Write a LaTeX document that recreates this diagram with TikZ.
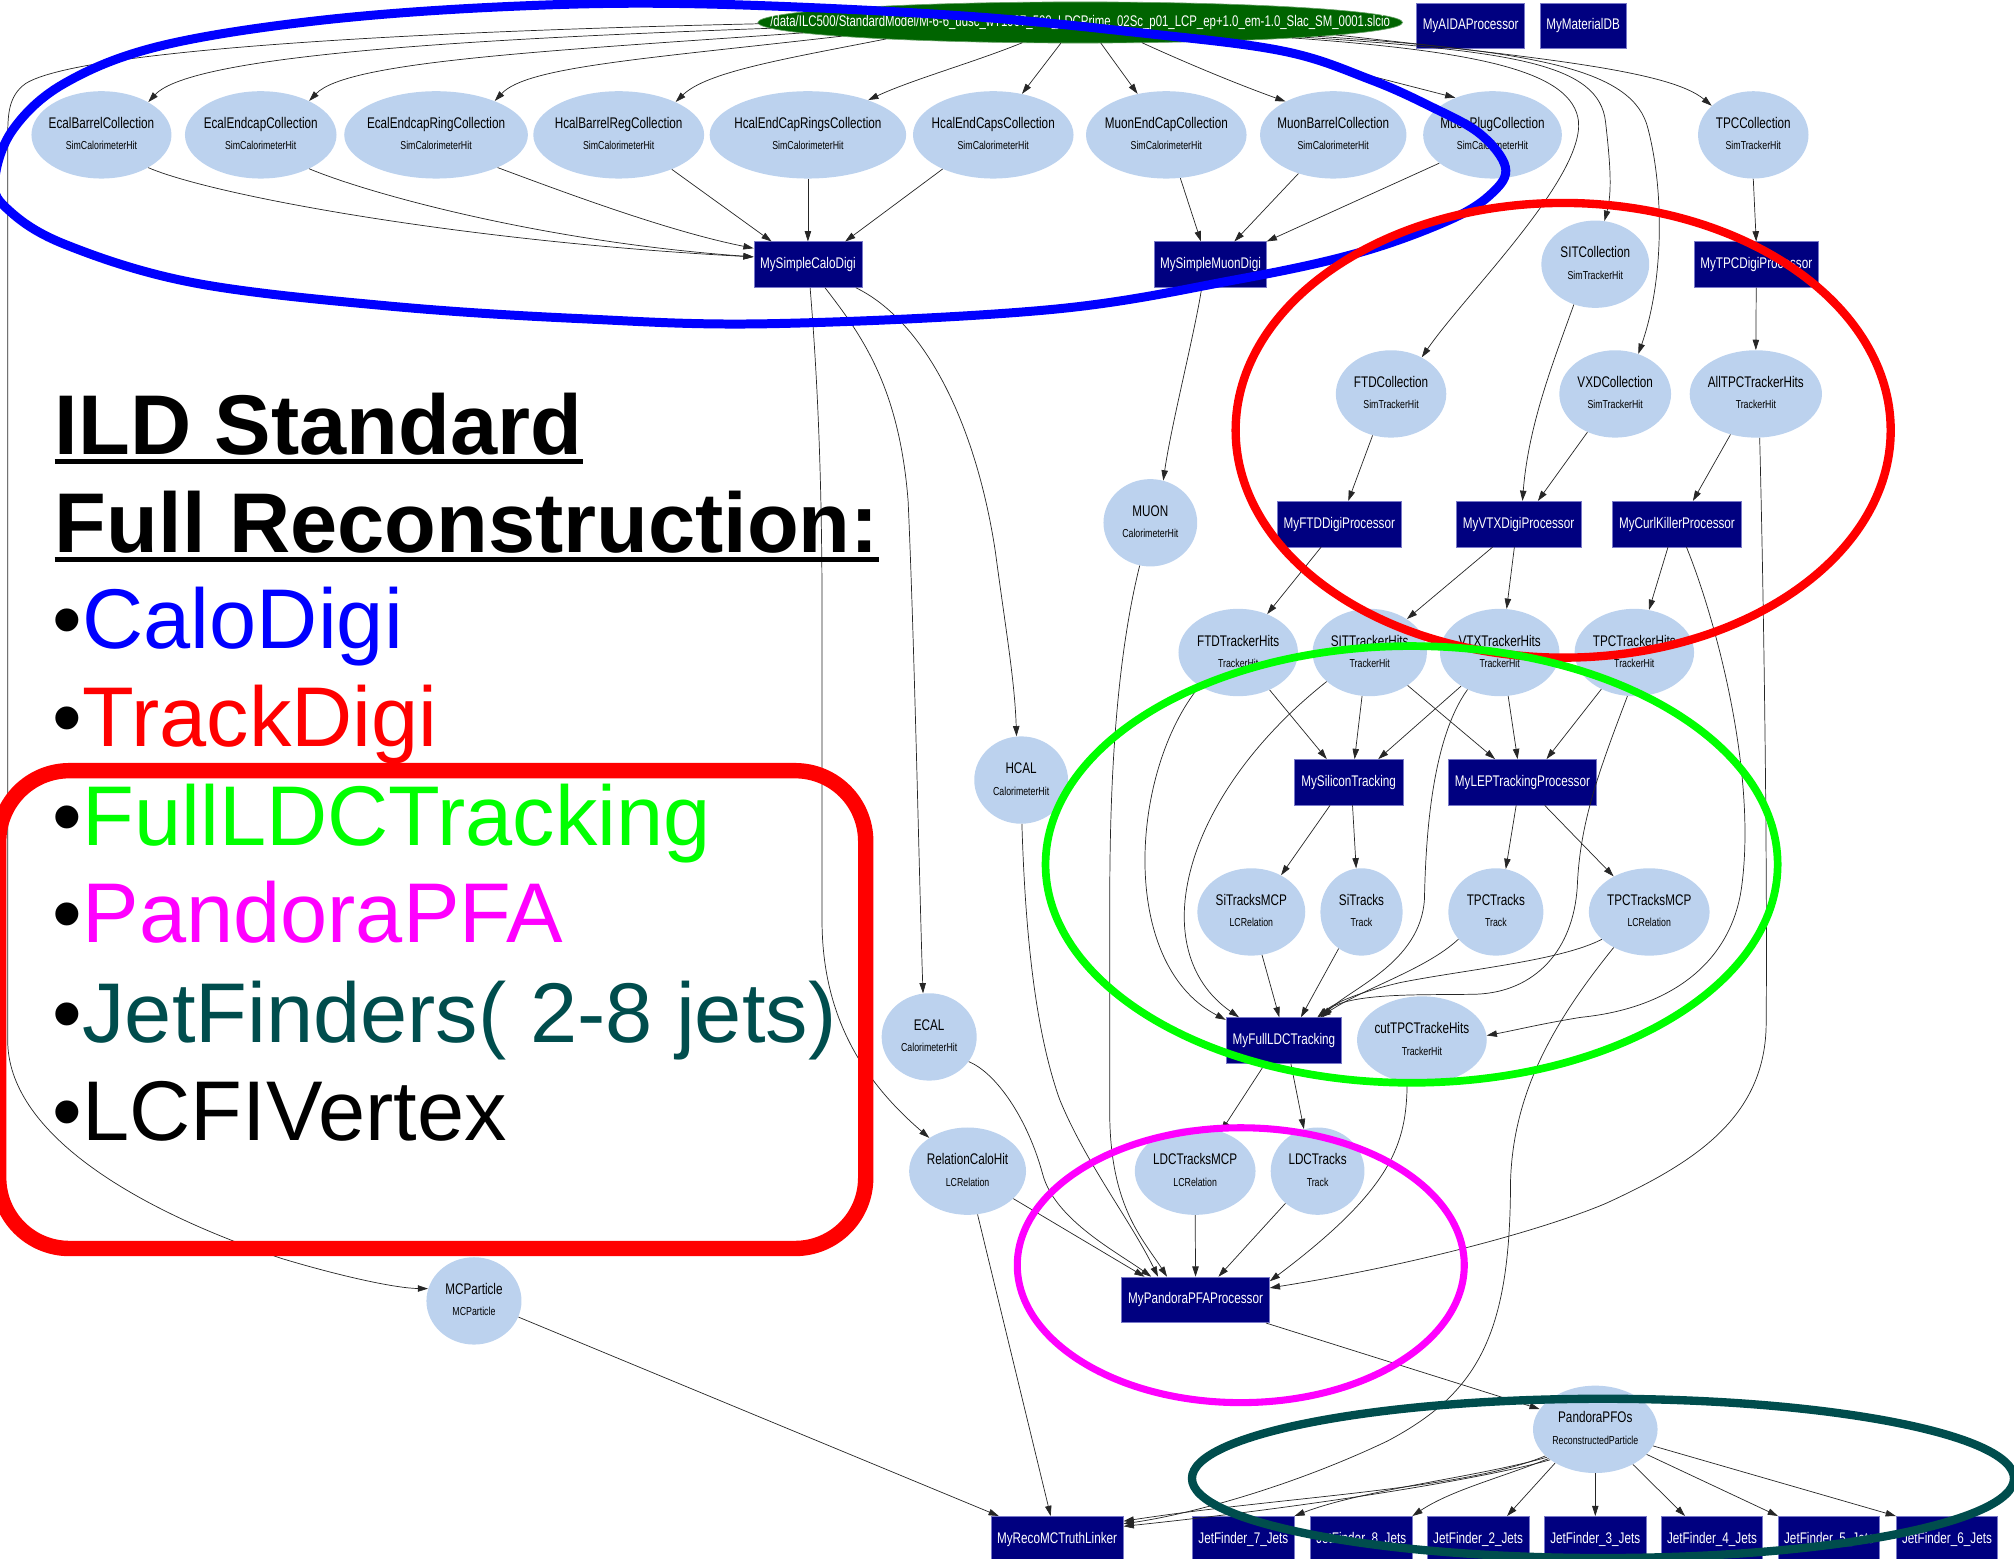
\documentclass[tikz,border=0pt]{standalone}
\usepackage{fontspec}
\setmainfont{Liberation Sans}
\newfontfamily\nodefont[FakeStretch=0.76]{Liberation Sans}
\newfontfamily\filefont[FakeStretch=0.74]{Liberation Sans}
\usetikzlibrary{shapes.geometric,arrows.meta,calc}

\definecolor{collfill}{RGB}{188,210,238}
\definecolor{procfill}{RGB}{0,0,128}
\definecolor{procline}{RGB}{120,120,200}
\definecolor{filefill}{RGB}{0,100,0}
\definecolor{caloblue}{RGB}{0,0,255}
\definecolor{trackred}{RGB}{255,0,0}
\definecolor{ldcgreen}{RGB}{0,255,0}
\definecolor{pfamagenta}{RGB}{255,0,255}
\definecolor{jetteal}{RGB}{0,77,77}

% collection node: name, x, y, width, collection name, type
\newcommand\collnode[6]{%
  \node[coll, minimum width=#4pt] (#1) at (#2,#3) {};
  \node[colltitle] (#1-t) at ($(#1.center)+(0,-5)$) {#5};
  \node[colltype] (#1-s) at ($(#1.center)+(0,11.7)$) {#6};
}

\begin{document}
\begin{tikzpicture}[x=1pt,y=-1pt,
  coll/.style={ellipse, fill=collfill, draw=none, minimum height=68pt, inner sep=0pt},
  colltitle/.style={anchor=base, inner sep=0pt, font=\nodefont\fontsize{12}{14}\selectfont},
  colltype/.style={anchor=base, inner sep=0pt, font=\nodefont\fontsize{9}{10}\selectfont},
  proc/.style={rectangle, fill=procfill, draw=procline, line width=0.5pt, minimum height=35.5pt,
    inner sep=0pt, text=white, font=\nodefont\fontsize{12}{14}\selectfont},
  filenode/.style={ellipse, fill=filefill, draw=filefill!60!white, line width=0.5pt, inner sep=0pt},
  filetext/.style={inner sep=0pt, text=white, font=\filefont\fontsize{12}{14}\selectfont},
  conn/.style={draw=black!85, line width=0.55pt, -{Triangle[length=8pt,width=5pt]}},
  bigtext/.style={anchor=base west, inner sep=0pt, font=\fontsize{66}{70}\selectfont},
  outline/.style={line width=6.5pt, fill=none}
]
\useasboundingbox (0,0) rectangle (1568,1213);

% ---------- input file and global processors ----------
\node[filenode, minimum width=502pt, minimum height=32pt] (S) at (841,17.5) {};
\node[filetext] (S-t) at (S.center) {/data/ILC500/StandardModel/M-6-6\_udsc\_wT1907\_500\_LDCPrime\_02Sc\_p01\_LCP\_ep+1.0\_em-1.0\_Slac\_SM\_0001.slcio};
\node[proc, minimum width=84pt] (aida) at (1145,20) {MyAIDAProcessor};
\node[proc, minimum width=67pt] (matdb) at (1232.5,20) {MyMaterialDB};

% ---------- collections ----------
\collnode{ecalb}{79}{105}{109}{EcalBarrelCollection}{SimCalorimeterHit}
\collnode{ecale}{203}{105}{118}{EcalEndcapCollection}{SimCalorimeterHit}
\collnode{ecalr}{339.5}{105}{143}{EcalEndcapRingCollection}{SimCalorimeterHit}
\collnode{hcalb}{481.7}{105}{133}{HcalBarrelRegCollection}{SimCalorimeterHit}
\collnode{hcalr}{629}{105}{153}{HcalEndCapRingsCollection}{SimCalorimeterHit}
\collnode{hcale}{773.3}{105}{125}{HcalEndCapsCollection}{SimCalorimeterHit}
\collnode{muone}{908}{105}{125}{MuonEndCapCollection}{SimCalorimeterHit}
\collnode{muonb}{1038}{105}{114}{MuonBarrelCollection}{SimCalorimeterHit}
\collnode{muonp}{1162}{105}{108}{MuonPlugCollection}{SimCalorimeterHit}
\collnode{tpcc}{1365}{105}{86}{TPCCollection}{SimTrackerHit}
\collnode{sitc}{1242}{205.7}{84}{SITCollection}{SimTrackerHit}
\collnode{ftdc}{1083}{306.7}{86}{FTDCollection}{SimTrackerHit}
\collnode{vxdc}{1257.5}{306.7}{87}{VXDCollection}{SimTrackerHit}
\collnode{alltpc}{1367}{306.7}{103}{AllTPCTrackerHits}{TrackerHit}
\collnode{muon}{895.6}{407}{73}{MUON}{CalorimeterHit}
\collnode{ftdth}{964}{508}{93}{FTDTrackerHits}{TrackerHit}
\collnode{sitth}{1066.4}{508}{89}{SITTrackerHits}{TrackerHit}
\collnode{vtxth}{1167.6}{508}{93}{VTXTrackerHits}{TrackerHit}
\collnode{tpcth}{1272.4}{508}{93}{TPCTrackerHits}{TrackerHit}
\collnode{hcal}{795}{607.3}{73}{HCAL}{CalorimeterHit}
\collnode{sitrmcp}{974.2}{710}{84}{SiTracksMCP}{LCRelation}
\collnode{sitr}{1060}{710}{64}{SiTracks}{Track}
\collnode{tpctr}{1164.6}{710}{74}{TPCTracks}{Track}
\collnode{tpctrmcp}{1284}{710}{94}{TPCTracksMCP}{LCRelation}
\collnode{ecal}{723.4}{807.3}{74}{ECAL}{CalorimeterHit}
\collnode{cuttpc}{1107}{809.7}{101}{cutTPCTrackeHits}{TrackerHit}
\collnode{relc}{753.3}{911.8}{91}{RelationCaloHit}{LCRelation}
\collnode{ldcmcp}{930.5}{911.8}{94}{LDCTracksMCP}{LCRelation}
\collnode{ldc}{1025.8}{911.8}{73}{LDCTracks}{Track}
\collnode{mcp}{369}{1012.8}{74}{MCParticle}{MCParticle}
\collnode{pfo}{1242}{1112.8}{97}{PandoraPFOs}{ReconstructedParticle}

% ---------- processors ----------
\node[proc, minimum width=84pt] (calo) at (629,206) {MySimpleCaloDigi};
\node[proc, minimum width=87pt] (muondigi) at (942.4,206) {MySimpleMuonDigi};
\node[proc, minimum width=97pt] (tpcdigi) at (1367.3,206) {MyTPCDigiProcessor};
\node[proc, minimum width=96pt] (ftddigi) at (1042.7,408) {MyFTDDigiProcessor};
\node[proc, minimum width=97pt] (vtxdigi) at (1182.3,408) {MyVTXDigiProcessor};
\node[proc, minimum width=100pt] (curl) at (1305.6,408) {MyCurlKillerProcessor};
\node[proc, minimum width=85pt] (siltrk) at (1050,609) {MySiliconTracking};
\node[proc, minimum width=115pt] (lep) at (1185.3,609) {MyLEPTrackingProcessor};
\node[proc, minimum width=90pt] (full) at (999.6,810) {MyFullLDCTracking};
\node[proc, minimum width=115pt] (pandora) at (930.8,1012) {MyPandoraPFAProcessor};
\node[proc, minimum width=103pt] (reco) at (823,1198.3) {MyRecoMCTruthLinker};
\node[proc, minimum width=79pt] (jf7) at (968,1198.3) {JetFinder\_7\_Jets};
\node[proc, minimum width=79pt] (jf8) at (1059.8,1198.3) {JetFinder\_8\_Jets};
\node[proc, minimum width=79pt] (jf2) at (1150.8,1198.3) {JetFinder\_2\_Jets};
\node[proc, minimum width=79pt] (jf3) at (1242,1198.3) {JetFinder\_3\_Jets};
\node[proc, minimum width=79pt] (jf4) at (1332.9,1198.3) {JetFinder\_4\_Jets};
\node[proc, minimum width=79pt] (jf5) at (1424,1198.3) {JetFinder\_5\_Jets};
\node[proc, minimum width=79pt] (jf6) at (1515.8,1198.3) {JetFinder\_6\_Jets};

% ---------- file fan-out ----------
\draw[conn] ($(S.center)+(-241,4.5)$) .. controls (380,30) and (150,42) .. (ecalb.35);
\draw[conn] ($(S.center)+(-216,8.1)$) .. controls (420,40) and (270,48) .. (ecale.35);
\draw[conn] ($(S.center)+(-186,10.7)$) .. controls (500,46) and (410,52) .. (ecalr.30);
\draw[conn] ($(S.center)+(-151,12.8)$) .. controls (610,46) and (550,56) .. (hcalb.30);
\draw[conn] ($(S.center)+(-45,15.7)$) .. controls (760,48) and (710,62) .. (hcalr.30);
\draw[conn] ($(S.center)+(-15,16)$) -- (hcale.55);
\draw[conn] ($(S.center)+(16,16)$) -- (muone.125);
\draw[conn] ($(S.center)+(48,15.7)$) .. controls (930,52) and (970,68) .. (muonb.145);
\draw[conn] ($(S.center)+(119,14.1)$) -- (muonp.135);
\draw[conn] ($(S.center)+(199,9.7)$) .. controls (1200,45) and (1300,55) .. (tpcc.145);
\draw[conn] ($(S.center)+(165,12)$) .. controls (1150,40) and (1225,55) .. (1229,95)
  .. controls (1232,140) and (1140,230) .. (ftdc.50);
\draw[conn] ($(S.center)+(175,11.5)$) .. controls (1180,40) and (1245,50) .. (1250,95)
  .. controls (1254,130) and (1255,150) .. (sitc.78);
\draw[conn] ($(S.center)+(185,10.8)$) .. controls (1200,40) and (1272,55) .. (1283,100)
  .. controls (1296,150) and (1295,220) .. (vxdc.60);
\draw[conn] ($(S.center)+(-250,1)$) .. controls (300,25) and (60,40) .. (20,65)
  .. controls (6,75) and (6,90) .. (6,110) -- (6,810)
  .. controls (6,880) and (100,940) .. (220,980)
  .. controls (270,995) and (310,1003) .. (mcp.165);

% ---------- calorimeter digitisation ----------
\draw[conn] (ecalb.-35) .. controls (165,152) and (360,188) .. ($(calo.west)+(0,-6)$);
\draw[conn] (ecale.-35) .. controls (285,150) and (420,188) .. ($(calo.west)+(0,-6)$);
\draw[conn] (ecalr.-28) .. controls (440,150) and (520,180) .. ($(calo.west)+(0,-12.7)$);
\draw[conn] (hcalb.-33) -- ($(calo.north west)+(14,0)$);
\draw[conn] (hcalr.-90) -- (calo.north);
\draw[conn] (hcale.-146) -- ($(calo.north)+(29,0)$);
\draw[conn] (muone.-72) -- ($(muondigi.north)+(-7.4,0)$);
\draw[conn] (muonb.-132) -- ($(muondigi.north)+(18.6,0)$);
\draw[conn] (muonp.-152) -- (muondigi.north east);
\draw[conn] ($(muondigi.south)+(-6.8,0)$) .. controls (930,260) and (912,330) .. (muon.73);
\draw[conn] ($(calo.south east)+(-5,0)$) .. controls (720,250) and (760,330) .. (775,430)
  .. controls (783,490) and (790,530) .. (hcal.96);
\draw[conn] ($(calo.south)+(13.3,0)$) .. controls (670,260) and (700,300) .. (707,390)
  .. controls (712,500) and (716,700) .. (ecal.98);
\draw[conn] ($(calo.south)+(1.7,0)$) .. controls (637,300) and (640,380) .. (640,480) -- (640,720)
  .. controls (641,790) and (670,840) .. (relc.139);

% ---------- tracker digitisation ----------
\draw[conn] (tpcc.south) -- (tpcdigi.north);
\draw[conn] (tpcdigi.south) -- (alltpc.north);
\draw[conn] (sitc.-118) .. controls (1210,280) and (1190,330) .. ($(vtxdigi.north)+(3,0)$);
\draw[conn] (vxdc.-126) -- ($(vtxdigi.north)+(15,0)$);
\draw[conn] (ftdc.-114) -- ($(ftddigi.north)+(7,0)$);
\draw[conn] (alltpc.-122) -- ($(curl.north)+(12.4,0)$);
\draw[conn] ($(ftddigi.south)+(-14.2,0)$) -- (ftdth.53);
\draw[conn] ($(vtxdigi.south)+(-20.3,0)$) -- (sitth.42);
\draw[conn] ($(vtxdigi.south)+(-3.3,0)$) -- (vtxth.81);
\draw[conn] ($(curl.south)+(-7,0)$) -- (tpcth.71);
\draw[conn] ($(curl.south)+(7.4,0)$) .. controls (1335,480) and (1368,600) .. (1356,690)
  .. controls (1348,750) and (1300,785) .. (1231,792)
  .. controls (1200,797) and (1180,802) .. (cuttpc.4);

% ---------- tracking ----------
\draw[conn] (ftdth.-50) -- ($(siltrk.north)+(-17,0)$);
\draw[conn] (ftdth.-139) .. controls (880,600) and (870,750) .. ($(full.north west)+(0,2)$);
\draw[conn] (sitth.-100) -- ($(siltrk.north)+(4.6,0)$);
\draw[conn] (sitth.-41) -- ($(lep.north)+(-21.3,0)$);
\draw[conn] (sitth.-146) .. controls (920,620) and (890,740) .. ($(full.north)+(-35,0)$);
\draw[conn] (vtxth.-139) -- ($(siltrk.north)+(23,0)$);
\draw[conn] (vtxth.-79) -- ($(lep.north)+(-3.8,0)$);
\draw[conn] (vtxth.-131) .. controls (1115,575) and (1110,650) .. (1109,700)
  .. controls (1106,750) and (1050,770) .. ($(full.north)+(30,0)$);
\draw[conn] (tpcth.-132) -- ($(lep.north)+(18.7,0)$);
\draw[conn] (tpcth.-99) .. controls (1245,600) and (1230,640) .. (1228,690)
  .. controls (1225,740) and (1195,772) .. (1150,774)
  .. controls (1110,775) and (1050,772) .. ($(full.north)+(27,0)$);
\draw[conn] ($(siltrk.south)+(-14.5,0)$) -- (sitrmcp.51);
\draw[conn] ($(siltrk.south)+(3,0)$) -- (sitr.97);
\draw[conn] ($(lep.south)+(-4.9,0)$) -- (tpctr.77);
\draw[conn] ($(lep.south)+(17.3,0)$) -- (tpctrmcp.135);
\draw[conn] (sitrmcp.-76) -- ($(full.north)+(-3.6,0)$);
\draw[conn] (sitr.-122) -- ($(full.north)+(13.2,0)$);
\draw[conn] (tpctr.-144) .. controls (1110,755) and (1060,770) .. ($(full.north)+(28.4,0)$);
\draw[conn] (tpctrmcp.-150) .. controls (1215,748) and (1140,755) .. (1090,765)
  .. controls (1060,772) and (1040,780) .. ($(full.north)+(26,0)$);
\draw[conn] (tpctrmcp.-135) .. controls (1210,795) and (1178,850) .. (1176,920)
  .. controls (1176,1040) and (1150,1085) .. (1080,1122)
  .. controls (1000,1160) and (920,1180) .. ($(reco.north east)+(0,6)$);

% ---------- particle flow ----------
\draw[conn] ($(full.south)+(-14.6,0)$) -- (ldcmcp.57);
\draw[conn] ($(full.south)+(5.4,0)$) -- (ldc.108);
\draw[conn] (relc.-31) -- ($(pandora.north)+(-39.7,0)$);
\draw[conn] (ecal.-32) .. controls (775,835) and (800,870) .. (812,915)
  .. controls (822,950) and (870,975) .. ($(pandora.north)+(-34.5,0)$);
\draw[conn] (hcal.-89) .. controls (798,720) and (805,800) .. (825,856)
  .. controls (845,905) and (880,950) .. ($(pandora.north)+(-29.2,0)$);
\draw[conn] (muon.-104) .. controls (870,510) and (864,600) .. (864,700) -- (864,870)
  .. controls (865,940) and (890,965) .. ($(pandora.north)+(-22.2,0)$);
\draw[conn] (ldcmcp.south) -- (pandora.north);
\draw[conn] (ldc.-135) -- ($(pandora.north)+(17.8,0)$);
\draw[conn] (cuttpc.-109) .. controls (1095,890) and (1085,925) .. ($(pandora.north east)+(0,3.5)$);
\draw[conn] (alltpc.-85) .. controls (1374,500) and (1376,700) .. (1375,800)
  .. controls (1373,870) and (1320,905) .. (1250,937)
  .. controls (1200,958) and (1100,985) .. ($(pandora.north east)+(0,8.7)$);
\draw[conn] (relc.-77) -- ($(reco.north)+(-5,0)$);
\draw[conn] (mcp.-20) -- ($(reco.north west)+(6.4,0)$);

% ---------- jets and truth linking ----------
\draw[conn] ($(pandora.south east)+(-3,0)$) -- (pfo.160);
\draw[conn] (pfo.-150) .. controls (1150,1150) and (1060,1160) .. (jf7.north east);
\draw[conn] (pfo.-148) .. controls (1170,1150) and (1130,1160) .. (jf8.north east);
\draw[conn] (pfo.-140) -- ($(jf2.north)+(22.5,0)$);
\draw[conn] (pfo.south) -- (jf3.north);
\draw[conn] (pfo.-43) -- ($(jf4.north)+(-21,0)$);
\draw[conn] (pfo.-26) -- (jf5.north west);
\draw[conn] (pfo.-16) -- (jf6.north west);
\draw[conn] (pfo.-152) .. controls (1140,1160) and (1000,1165) .. ($(reco.north east)+(0,4)$);
\draw[conn] (pfo.-146) .. controls (1160,1150) and (1030,1172) .. ($(reco.north east)+(0,8)$);

% ---------- legend text ----------
\node[bigtext, font=\fontsize{66}{70}\selectfont\bfseries] (hd1) at (42.5,354) {ILD Standard};
\node[bigtext, font=\fontsize{66}{70}\selectfont\bfseries] (hd2) at (42.5,430) {Full Reconstruction:};
\draw[line width=4pt] ($(hd1.base west)+(0,5.5)$) -- ($(hd1.base east)+(0,5.5)$);
\draw[line width=4pt] ($(hd2.base west)+(0,5.5)$) -- ($(hd2.base east)+(0,5.5)$);
\node[bigtext] (li1) at (41,505) {•\textcolor{caloblue}{CaloDigi}};
\node[bigtext] (li2) at (41,581) {•\textcolor{trackred}{TrackDigi}};
\node[bigtext] (li3) at (41,658) {•\textcolor{ldcgreen}{FullLDCTracking}};
\node[bigtext] (li4) at (41,734) {•\textcolor{pfamagenta}{PandoraPFA}};
\node[bigtext] (li5) at (41,812) {•\textcolor{jetteal}{JetFinders( 2-8 jets)}};
\node[bigtext] (li6) at (41,888) {•LCFIVertex};

% ---------- group outlines ----------
\draw[outline, draw=caloblue, line width=7pt] plot[smooth cycle, tension=0.6] coordinates {
  (-4,140) (10,101) (50,65) (124,36) (248,16) (397,5) (545,3) (744,12) (892,26)
  (1000,40) (1067,62) (1114,83) (1152,104) (1172,130) (1162,150) (1129,171)
  (1057,197) (961,218) (818,241) (600,252) (450,248) (300,238) (150,220) (50,190) (5,162)};
\draw[outline, draw=trackred] (1217,335) ellipse [x radius=255pt, y radius=177pt];
\draw[outline, draw=ldcgreen, line width=6pt] (1099,673) ellipse [x radius=285pt, y radius=170pt];
\draw[outline, draw=pfamagenta, line width=5.5pt] (966,985) ellipse [x radius=174pt, y radius=107pt];
\draw[outline, draw=jetteal] (1248,1151) ellipse [x radius=320pt, y radius=62pt];
\draw[outline, draw=trackred, line width=12pt, rounded corners=55pt] (-1,600) rectangle (674,972);
\end{tikzpicture}
\end{document}
